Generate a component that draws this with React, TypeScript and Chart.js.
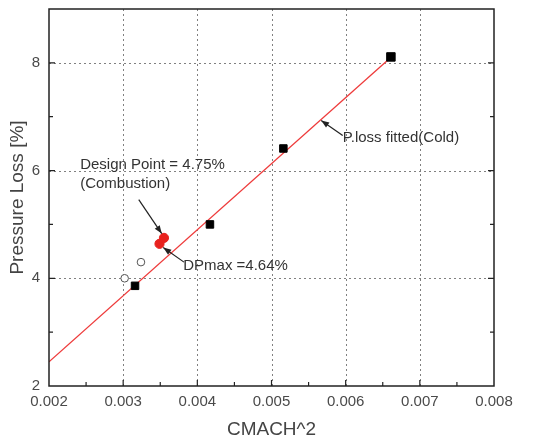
import React, { useEffect, useRef } from "react";
import { Chart, registerables } from "chart.js";

Chart.register(...registerables);

// Cold-flow measurements (filled squares)
const coldX = [0.00316, 0.00417, 0.00516, 0.00661];
const coldY = [3.86, 5.0, 6.41, 8.11];
// Additional measurements (open circles)
const openX = [0.00302, 0.00324];
const openY = [4.0, 4.3];
// Combustion design points (red)
const designX = [0.00349, 0.00355];
const designY = [4.64, 4.75];
// Fitted pressure-loss line end points
const fitX = [0.002, 0.0066];
const fitY = [2.45, 8.09];

// Axis ranges and tick steps
const xMin = 0.002;
const xMax = 0.008;
const xMinorStep = 0.0005;
const yMin = 2;
const yMax = 9;
const yMinorStep = 1;
const xGridValues = [0.003, 0.004, 0.005, 0.006, 0.007];
const yGridValues = [4, 6, 8];

const xTitle = "CMACH^2";
const yTitle = "Pressure Loss [%]";

type Note = {
  lines: string[];
  x: number;
  y: number;
  from: [number, number];
  to: [number, number];
};

const notes: Note[] = [
  {
    lines: ["Design Point = 4.75%", "(Combustion)"],
    x: 0.00242,
    y: 6.1,
    from: [0.00321, 5.46],
    to: [0.00352, 4.83],
  },
  {
    lines: ["DPmax =4.64%"],
    x: 0.00381,
    y: 4.24,
    from: [0.00382, 4.3],
    to: [0.00354, 4.57],
  },
  {
    lines: ["P.loss fitted(Cold)"],
    x: 0.00596,
    y: 6.6,
    from: [0.00596, 6.65],
    to: [0.00567, 6.93],
  },
];

const toPoints = (xs: number[], ys: number[]) => xs.map((x, i) => ({ x, y: ys[i] }));

const FONT = "'Liberation Sans', Arial, sans-serif";

const framePlugin = {
  id: "frameAndGrid",
  beforeDatasetsDraw(chart: any) {
    const { ctx, chartArea: a, scales } = chart;
    const xs = scales.x;
    const ys = scales.y;
    ctx.save();
    ctx.strokeStyle = "#808080";
    ctx.lineWidth = 1;
    ctx.setLineDash([2, 3]);
    xGridValues.forEach((v) => {
      const px = Math.round(xs.getPixelForValue(v)) + 0.5;
      ctx.beginPath();
      ctx.moveTo(px, a.top);
      ctx.lineTo(px, a.bottom);
      ctx.stroke();
    });
    yGridValues.forEach((v) => {
      const py = Math.round(ys.getPixelForValue(v)) + 0.5;
      ctx.beginPath();
      ctx.moveTo(a.left, py);
      ctx.lineTo(a.right, py);
      ctx.stroke();
    });
    ctx.restore();
  },
  afterDatasetsDraw(chart: any) {
    const { ctx, chartArea: a, scales } = chart;
    const xs = scales.x;
    const ys = scales.y;
    ctx.save();
    ctx.setLineDash([]);
    ctx.strokeStyle = "#222";
    ctx.lineWidth = 1.5;
    ctx.strokeRect(a.left, a.top, a.right - a.left, a.bottom - a.top);

    // inward tick marks
    ctx.lineWidth = 1.2;
    const nx = Math.round((xMax - xMin) / xMinorStep);
    for (let i = 1; i < nx; i++) {
      const v = xMin + i * xMinorStep;
      const major = i % 2 === 0;
      const px = xs.getPixelForValue(v);
      const len = major ? 6 : 4;
      ctx.beginPath();
      ctx.moveTo(px, a.bottom);
      ctx.lineTo(px, a.bottom - len);
      ctx.stroke();
    }
    const ny = Math.round((yMax - yMin) / yMinorStep);
    for (let i = 1; i < ny; i++) {
      const v = yMin + i * yMinorStep;
      const major = v % 2 === 0;
      const py = ys.getPixelForValue(v);
      const len = major ? 6 : 4;
      ctx.beginPath();
      ctx.moveTo(a.left, py);
      ctx.lineTo(a.left + len, py);
      ctx.moveTo(a.right, py);
      ctx.lineTo(a.right - len, py);
      ctx.stroke();
    }
    ctx.restore();
  },
  afterDraw(chart: any) {
    const { ctx, chartArea: a, scales } = chart;
    const xs = scales.x;
    const ys = scales.y;
    ctx.save();

    // annotations with arrows
    ctx.fillStyle = "#333";
    ctx.strokeStyle = "#222";
    ctx.font = `15px ${FONT}`;
    ctx.textAlign = "left";
    ctx.textBaseline = "middle";
    notes.forEach((n) => {
      const tx = xs.getPixelForValue(n.x);
      const ty = ys.getPixelForValue(n.y);
      n.lines.forEach((line, i) => ctx.fillText(line, tx, ty + i * 19));
      const x0 = xs.getPixelForValue(n.from[0]);
      const y0 = ys.getPixelForValue(n.from[1]);
      const x1 = xs.getPixelForValue(n.to[0]);
      const y1 = ys.getPixelForValue(n.to[1]);
      const ang = Math.atan2(y1 - y0, x1 - x0);
      ctx.lineWidth = 1.2;
      ctx.beginPath();
      ctx.moveTo(x0, y0);
      ctx.lineTo(x1, y1);
      ctx.stroke();
      const hl = 8;
      const hw = 3;
      ctx.beginPath();
      ctx.moveTo(x1, y1);
      ctx.lineTo(
        x1 - hl * Math.cos(ang) + hw * Math.sin(ang),
        y1 - hl * Math.sin(ang) - hw * Math.cos(ang)
      );
      ctx.lineTo(
        x1 - hl * Math.cos(ang) - hw * Math.sin(ang),
        y1 - hl * Math.sin(ang) + hw * Math.cos(ang)
      );
      ctx.closePath();
      ctx.fillStyle = "#222";
      ctx.fill();
      ctx.fillStyle = "#333";
    });

    // axis titles
    ctx.fillStyle = "#444";
    ctx.font = `19px ${FONT}`;
    ctx.textAlign = "center";
    ctx.textBaseline = "middle";
    ctx.fillText(xTitle, (a.left + a.right) / 2, 430);
    ctx.translate(18, (a.top + a.bottom) / 2);
    ctx.rotate(-Math.PI / 2);
    ctx.fillText(yTitle, 0, 0);
    ctx.restore();
  },
};

export default function App() {
  const canvasRef = useRef<HTMLCanvasElement>(null);

  useEffect(() => {
    const canvas = canvasRef.current;
    if (!canvas) return;
    const chart = new Chart(canvas, {
      type: "scatter",
      data: {
        datasets: [
          {
            type: "line",
            label: "P.loss fitted(Cold)",
            data: toPoints(fitX, fitY),
            borderColor: "#ee3b3b",
            borderWidth: 1.3,
            pointRadius: 0,
            showLine: true,
            fill: false,
            order: 4,
          },
          {
            label: "Cold",
            data: toPoints(coldX, coldY),
            pointStyle: "rect",
            pointRadius: [5.3, 5.3, 5.3, 6],
            backgroundColor: "#000",
            borderColor: "#000",
            borderWidth: 1,
            order: 1,
          },
          {
            label: "Other",
            data: toPoints(openX, openY),
            pointStyle: "circle",
            pointRadius: 3.8,
            backgroundColor: "#fff",
            borderColor: "#555",
            borderWidth: 1,
            order: 2,
          },
          {
            label: "Combustion",
            data: toPoints(designX, designY),
            pointStyle: "circle",
            pointRadius: 4.6,
            backgroundColor: "#e8221e",
            borderColor: "#e8221e",
            borderWidth: 1,
            order: 0,
          },
        ],
      },
      options: {
        responsive: false,
        animation: false,
        layout: { padding: { left: 0, right: 59, top: 9, bottom: 0 } },
        plugins: {
          legend: { display: false },
          tooltip: { enabled: false },
        },
        scales: {
          x: {
            type: "linear",
            min: xMin,
            max: xMax,
            border: { display: false },
            grid: { display: false, drawTicks: false },
            ticks: {
              stepSize: xMinorStep,
              autoSkip: false,
              maxRotation: 0,
              padding: 7,
              color: "#4a4a4a",
              font: { family: FONT, size: 15 },
              callback: (v: any) => {
                const n = Math.round(Number(v) * 10000);
                return n % 10 === 0 ? (n / 10000).toFixed(3) : "";
              },
            },
            afterFit: (s: any) => {
              s.height = 56;
              s.paddingLeft = 0;
              s.paddingRight = 0;
            },
          },
          y: {
            type: "linear",
            min: yMin,
            max: yMax,
            border: { display: false },
            grid: { display: false, drawTicks: false },
            ticks: {
              stepSize: yMinorStep,
              autoSkip: false,
              padding: 9,
              color: "#4a4a4a",
              font: { family: FONT, size: 15 },
              callback: (v: any) => {
                const n = Math.round(Number(v));
                return n % 2 === 0 && n <= 8 ? String(n) : "";
              },
            },
            afterFit: (s: any) => {
              s.width = 49;
              s.paddingTop = 0;
              s.paddingBottom = 0;
            },
          },
        },
      },
      plugins: [framePlugin],
    });
    return () => chart.destroy();
  }, []);

  return (
    <div style={{ position: "fixed", left: 0, top: 0, width: 553, height: 442, background: "#fff" }}>
      <canvas ref={canvasRef} width={553} height={442} />
    </div>
  );
}
